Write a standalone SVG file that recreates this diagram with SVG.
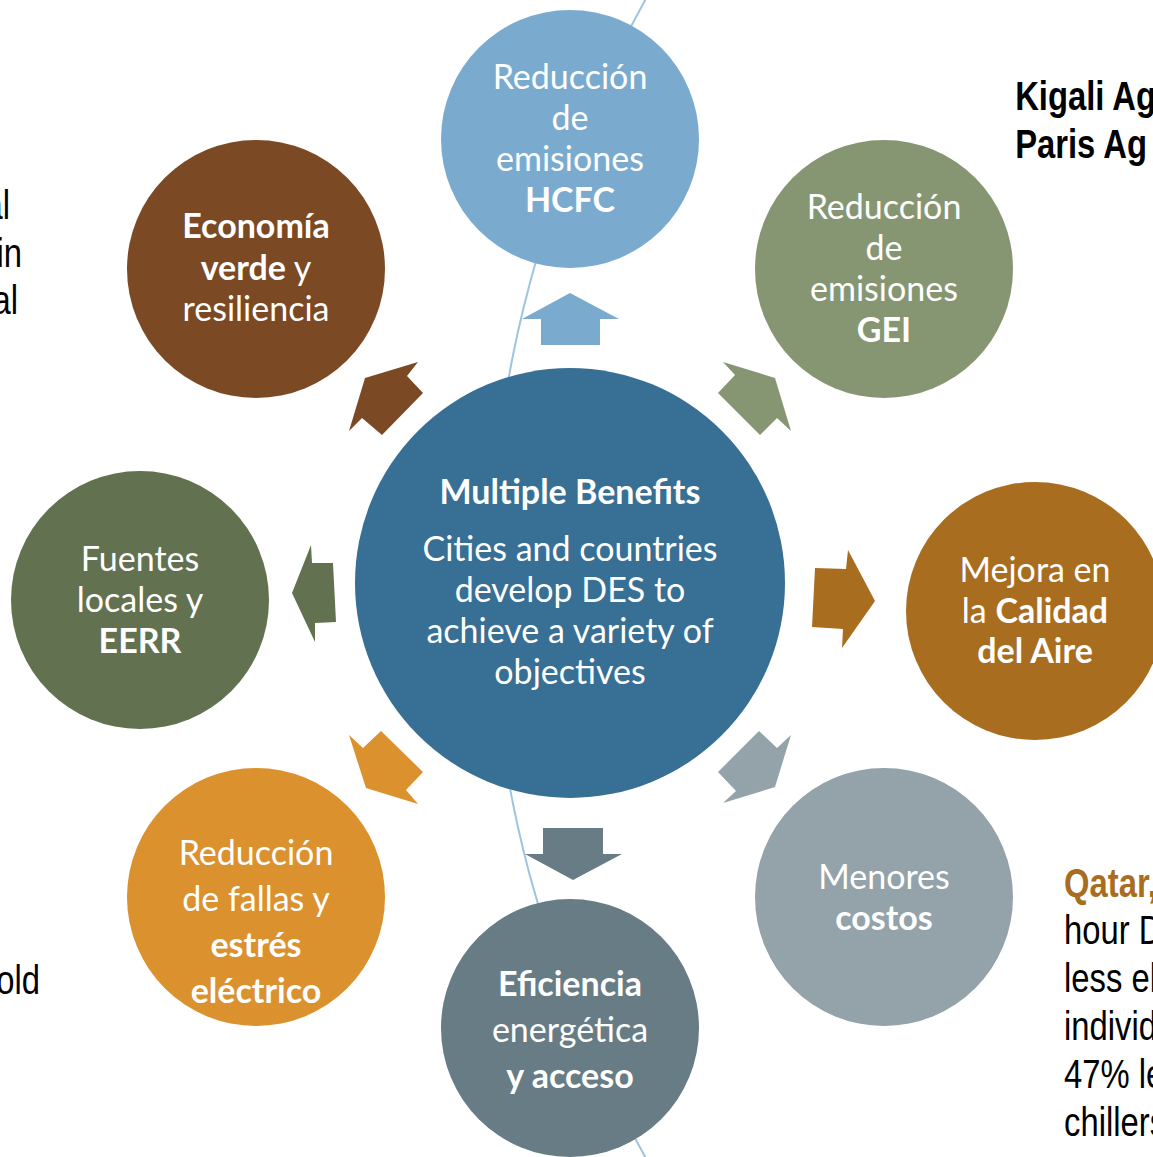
<svg xmlns="http://www.w3.org/2000/svg" width="1153" height="1157" viewBox="0 0 1153 1157">
  <style>
    .lbl{font-family:Lato,"Open Sans","DejaVu Sans",sans-serif;font-size:34px;fill:#fff;text-anchor:middle}
    .b{font-weight:bold}
    .note{font-family:"Liberation Sans",Arial,sans-serif;font-size:40px;fill:#000}
    .note.accent{fill:#a96d20}
    .curve{fill:none;stroke:#9fc4df;stroke-width:2}
  </style>
  <rect width="1153" height="1157" fill="#fff"/>

  <!-- side notes (narrow sans) -->
  <g id="notes" transform="scale(0.82,1)">
    <text class="note" text-anchor="end" x="12.2" y="219">al</text>
    <text class="note" text-anchor="end" x="26.8" y="267">in</text>
    <text class="note" text-anchor="end" x="22" y="314">al</text>
    <text class="note" text-anchor="end" x="48.8" y="994">old</text>
    <text class="note b" x="1238" y="110">Kigali Ag</text>
    <text class="note b" x="1238" y="158">Paris Ag</text>
    <text class="note b accent" x="1297.6" y="897">Qatar,</text>
    <text class="note" x="1297.6" y="944">hour D</text>
    <text class="note" x="1297.6" y="992">less el</text>
    <text class="note" x="1297.6" y="1040">individ</text>
    <text class="note" x="1297.6" y="1088">47% le</text>
    <text class="note" x="1297.6" y="1136">chillers</text>
  </g>

  <!-- thin arc running behind the wheel -->
  <path class="curve" d="M 648 -5 C 438 370, 438 790, 648 1162"/>

  <!-- block arrows from the hub to each benefit -->
  <g id="connectors">
    <polygon fill="#7aabcf" points="570,293 619,319 600,319 600,345 541,345 541,319 522,319"/>
    <polygon fill="#879672" points="723,362 735,375 718,393 760,435 777,418 791,431 775,378"/>
    <polygon fill="#a96d20" points="815,568 846,569 848,550 875,601 842,648 843,629 812,627"/>
    <polygon fill="#93a3a9" points="759,731 777,748 791,735 775,787 723,803 736,791 718,772"/>
    <polygon fill="#677c84" points="543,828 603,828 603,854 622,854 573,880 525,854 543,854"/>
    <polygon fill="#db912d" points="349,735 363,748 381,731 423,772 406,790 418,804 366,788"/>
    <polygon fill="#627150" points="311,545 312,563 333,563 336,622 315,623 315,642 292,593"/>
    <polygon fill="#7b4a25" points="365,378 418,362 407,376 423,393 382,435 362,418 349,431"/>
  </g>

  <g id="hub">
    <circle cx="570" cy="583" r="215" fill="#386f94"/>
    <text class="lbl" x="570" y="504"><tspan class="b">Multiple Benefits</tspan></text>
    <text class="lbl" x="570" y="561">Cities and countries<tspan x="570" dy="41">develop DES to</tspan><tspan x="570" dy="41">achieve a variety of</tspan><tspan x="570" dy="41">objectives</tspan></text>
  </g>

  <g id="hcfc">
    <circle cx="570" cy="139" r="129" fill="#7aabcf"/>
    <text class="lbl" x="570" y="89">Reducción<tspan x="570" dy="41">de</tspan><tspan x="570" dy="41">emisiones</tspan><tspan x="570" dy="41" class="b">HCFC</tspan></text>
  </g>

  <g id="gei">
    <circle cx="884" cy="269" r="129" fill="#879672"/>
    <text class="lbl" x="884" y="219">Reducción<tspan x="884" dy="41">de</tspan><tspan x="884" dy="41">emisiones</tspan><tspan x="884" dy="41" class="b">GEI</tspan></text>
  </g>

  <g id="calidad-aire">
    <circle cx="1035" cy="611" r="129" fill="#a96d20"/>
    <text class="lbl" x="1035" y="582">Mejora en<tspan x="1035" dy="40.5">la <tspan class="b">Calidad</tspan></tspan><tspan x="1035" dy="40.5" class="b">del Aire</tspan></text>
  </g>

  <g id="costos">
    <circle cx="884" cy="897" r="129" fill="#93a3a9"/>
    <text class="lbl" x="884" y="889">Menores<tspan x="884" dy="41" class="b">costos</tspan></text>
  </g>

  <g id="eficiencia">
    <circle cx="570" cy="1028" r="129" fill="#677c84"/>
    <text class="lbl" x="570" y="996"><tspan class="b">Eficiencia</tspan><tspan x="570" dy="46">energética</tspan><tspan x="570" dy="46" class="b">y acceso</tspan></text>
  </g>

  <g id="fallas">
    <circle cx="256" cy="897" r="129" fill="#db912d"/>
    <text class="lbl" x="256" y="865">Reducción<tspan x="256" dy="46">de fallas y</tspan><tspan x="256" dy="45.5" class="b">estrés</tspan><tspan x="256" dy="46" class="b">eléctrico</tspan></text>
  </g>

  <g id="fuentes">
    <circle cx="140" cy="600" r="129" fill="#627150"/>
    <text class="lbl" x="140" y="571">Fuentes<tspan x="140" dy="41">locales y</tspan><tspan x="140" dy="41" class="b">EERR</tspan></text>
  </g>

  <g id="economia">
    <circle cx="256" cy="269" r="129" fill="#7b4a25"/>
    <text class="lbl" x="256" y="238"><tspan class="b">Economía</tspan><tspan x="256" dy="42"><tspan class="b">verde</tspan> y</tspan><tspan x="256" dy="41">resiliencia</tspan></text>
  </g>
</svg>
